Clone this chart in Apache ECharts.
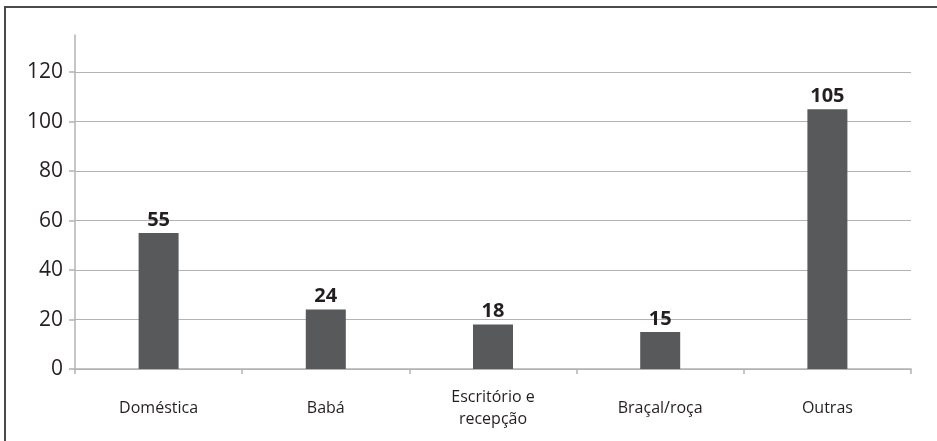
<!DOCTYPE html>
<html>
<head>
<meta charset="utf-8">
<script src="https://cdn.jsdelivr.net/npm/echarts@6/dist/echarts.min.js"></script>
<style>
  html, body { margin: 0; padding: 0; background: #fff; }
  #wrap { position: relative; width: 937px; height: 441px; overflow: hidden; }
  #chart { position: absolute; left: 0; top: 0; width: 937px; height: 441px; }
  #frame { position: absolute; left: 4px; top: 6px; width: 940px; height: 450px;
           border-left: 2px solid #4a4a4a; border-top: 2px solid #4a4a4a; pointer-events: none; }
</style>
</head>
<body>
<div id="wrap">
  <div id="chart"></div>
  <div id="frame"></div>
</div>
<script>
// Ocupações
const categories = ['Doméstica', 'Babá', 'Escritório e\nrecepção', 'Braçal/roça', 'Outras'];
const values = [55, 24, 18, 15, 105];
const yTicks = [0, 20, 40, 60, 80, 100, 120];

const fontFamily = '"Open Sans", "Noto Sans", sans-serif';
const textColor = '#231f20';
const axisGray = '#b3b3b3';

const chart = echarts.init(document.getElementById('chart'), null, { renderer: 'canvas' });

chart.setOption({
  animation: false,
  grid: { left: 75, right: 26, top: 35, bottom: 72, containLabel: false },
  xAxis: {
    type: 'category',
    data: categories,
    boundaryGap: true,
    axisLine: { show: true, lineStyle: { color: axisGray, width: 1.5 } },
    axisTick: { show: true, length: 5, lineStyle: { color: axisGray, width: 1.5 } },
    axisLabel: {
      color: textColor,
      fontFamily: fontFamily,
      fontSize: 16,
      lineHeight: 22,
      margin: 39,
      verticalAlign: 'middle',
      interval: 0
    },
    splitLine: { show: false }
  },
  yAxis: {
    type: 'value',
    min: 0,
    max: 135,
    interval: 20,
    axisLine: { show: true, lineStyle: { color: axisGray, width: 1.5 } },
    axisTick: { show: true, length: 6, customValues: yTicks, lineStyle: { color: axisGray, width: 1.5 } },
    axisLabel: {
      customValues: yTicks,
      color: textColor,
      fontFamily: fontFamily,
      fontSize: 21,
      margin: 12
    },
    splitLine: { show: true, lineStyle: { color: axisGray, width: 1.2 } }
  },
  series: [{
    type: 'bar',
    data: values,
    barWidth: 40,
    itemStyle: { color: '#58595b' },
    label: {
      show: true,
      position: 'top',
      distance: 3,
      color: textColor,
      fontFamily: fontFamily,
      fontWeight: 'bold',
      fontSize: 20
    }
  }]
});
</script>
</body>
</html>
